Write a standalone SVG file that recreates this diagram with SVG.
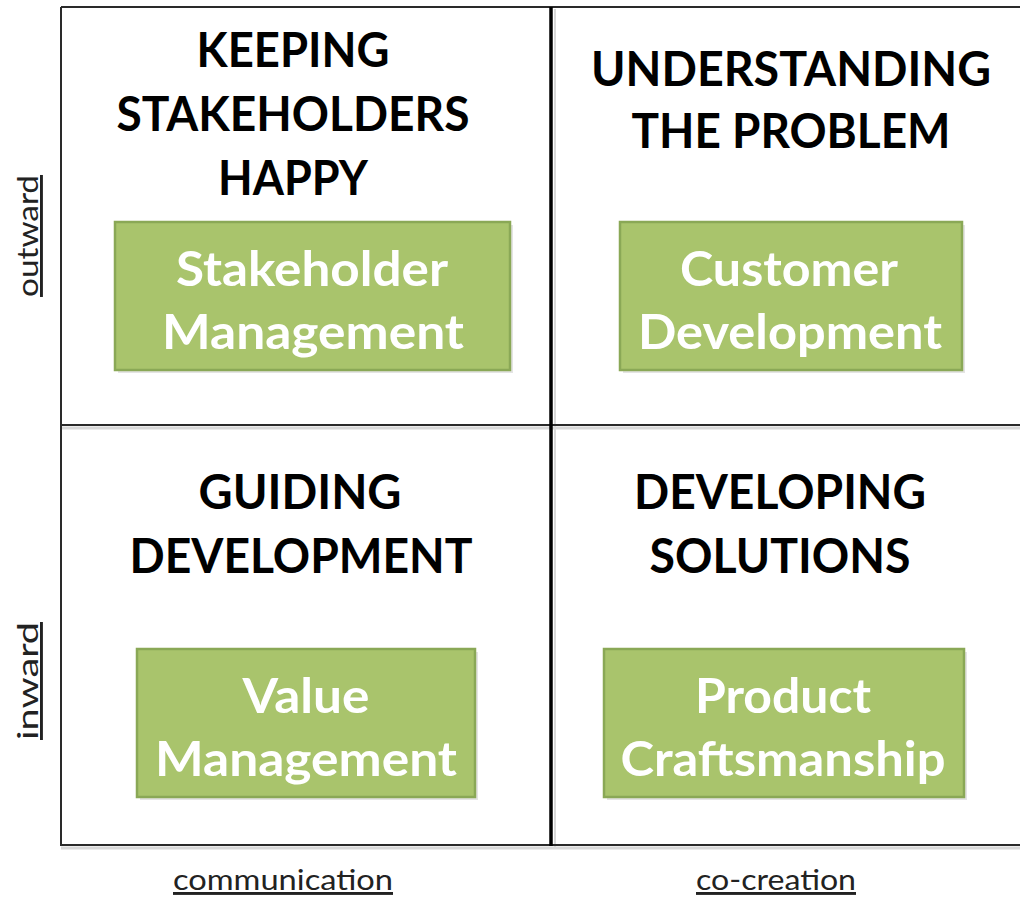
<svg xmlns="http://www.w3.org/2000/svg" width="1020" height="897" viewBox="0 0 1020 897">
<style>
.grid{stroke:#2a2a2a;fill:none}
.shadow{stroke:#d8d8d8;fill:none}
.head{font-family:Lato,"Liberation Sans",sans-serif;font-weight:700;font-size:48px;fill:#000;text-anchor:middle}
.lbl{font-family:Lato,"Liberation Sans",sans-serif;font-weight:700;font-size:48px;fill:#fff;text-anchor:middle}
.box{fill:#a9c46c;stroke:#8aa856;stroke-width:2.5}
.boxsh{fill:#e4e4e4}
.axis{font-family:Lato,"Liberation Sans",sans-serif;font-size:29px;fill:#222;text-anchor:middle;text-decoration:underline}
</style>
<rect width="1020" height="897" fill="#fff"/>
<g id="connectors">
<line class="shadow" x1="61" y1="848" x2="1020" y2="848" stroke-width="3"/>
<line class="shadow" x1="61" y1="428" x2="1020" y2="428" stroke-width="3"/>
<line class="shadow" x1="555" y1="9" x2="555" y2="848" stroke-width="2"/>
<line class="grid" x1="61" y1="7" x2="1020" y2="7" stroke-width="2"/>
<line class="grid" x1="61" y1="7" x2="61" y2="846" stroke-width="2"/>
<line class="grid" x1="61" y1="845" x2="1020" y2="845" stroke-width="2"/>
<line class="grid" x1="61" y1="425" x2="1020" y2="425" stroke-width="2"/>
<line x1="551" y1="7" x2="551" y2="846" stroke="#000" stroke-width="3.5"/>
</g>
<g id="q-stakeholders">
<text class="head" x="293" y="67" textLength="193" lengthAdjust="spacingAndGlyphs">KEEPING</text>
<text class="head" x="293" y="131" textLength="353" lengthAdjust="spacingAndGlyphs">STAKEHOLDERS</text>
<text class="head" x="293" y="195" textLength="150" lengthAdjust="spacingAndGlyphs">HAPPY</text>
</g>
<g id="node-stakeholder-management">
<rect class="boxsh" x="118" y="225" width="395" height="148"/>
<rect class="box" x="115" y="222" width="395" height="148"/>
<text class="lbl" x="312" y="286" textLength="272" lengthAdjust="spacingAndGlyphs">Stakeholder</text>
<text class="lbl" x="313" y="349" textLength="302" lengthAdjust="spacingAndGlyphs">Management</text>
</g>
<g id="q-problem">
<text class="head" x="791" y="86" textLength="400" lengthAdjust="spacingAndGlyphs">UNDERSTANDING</text>
<text class="head" x="791" y="148" textLength="319" lengthAdjust="spacingAndGlyphs">THE PROBLEM</text>
</g>
<g id="node-customer-development">
<rect class="boxsh" x="623" y="225" width="342" height="148"/>
<rect class="box" x="620" y="222" width="342" height="148"/>
<text class="lbl" x="789" y="286" textLength="218" lengthAdjust="spacingAndGlyphs">Customer</text>
<text class="lbl" x="790" y="349" textLength="304" lengthAdjust="spacingAndGlyphs">Development</text>
</g>
<g id="q-guiding">
<text class="head" x="300" y="509" textLength="203" lengthAdjust="spacingAndGlyphs">GUIDING</text>
<text class="head" x="301" y="573" textLength="343" lengthAdjust="spacingAndGlyphs">DEVELOPMENT</text>
</g>
<g id="node-value-management">
<rect class="boxsh" x="140" y="652" width="338" height="148"/>
<rect class="box" x="137" y="649" width="338" height="148"/>
<text class="lbl" x="306" y="713" textLength="127" lengthAdjust="spacingAndGlyphs">Value</text>
<text class="lbl" x="306" y="776" textLength="302" lengthAdjust="spacingAndGlyphs">Management</text>
</g>
<g id="q-solutions">
<text class="head" x="780" y="509" textLength="292" lengthAdjust="spacingAndGlyphs">DEVELOPING</text>
<text class="head" x="780" y="573" textLength="261" lengthAdjust="spacingAndGlyphs">SOLUTIONS</text>
</g>
<g id="node-product-craftsmanship">
<rect class="boxsh" x="607" y="652" width="360" height="148"/>
<rect class="box" x="604" y="649" width="360" height="148"/>
<text class="lbl" x="783" y="713" textLength="176" lengthAdjust="spacingAndGlyphs">Product</text>
<text class="lbl" x="783" y="776" textLength="325" lengthAdjust="spacingAndGlyphs">Craftsmanship</text>
</g>
<g id="axes">
<text class="axis" transform="translate(38,236) rotate(-90)" textLength="122" lengthAdjust="spacingAndGlyphs">outward</text>
<text class="axis" transform="translate(38,681) rotate(-90)" textLength="118" lengthAdjust="spacingAndGlyphs">inward</text>
<text class="axis" x="283" y="890" textLength="220" lengthAdjust="spacingAndGlyphs">communication</text>
<text class="axis" x="776" y="890" textLength="160" lengthAdjust="spacingAndGlyphs">co-creation</text>
</g>
</svg>
